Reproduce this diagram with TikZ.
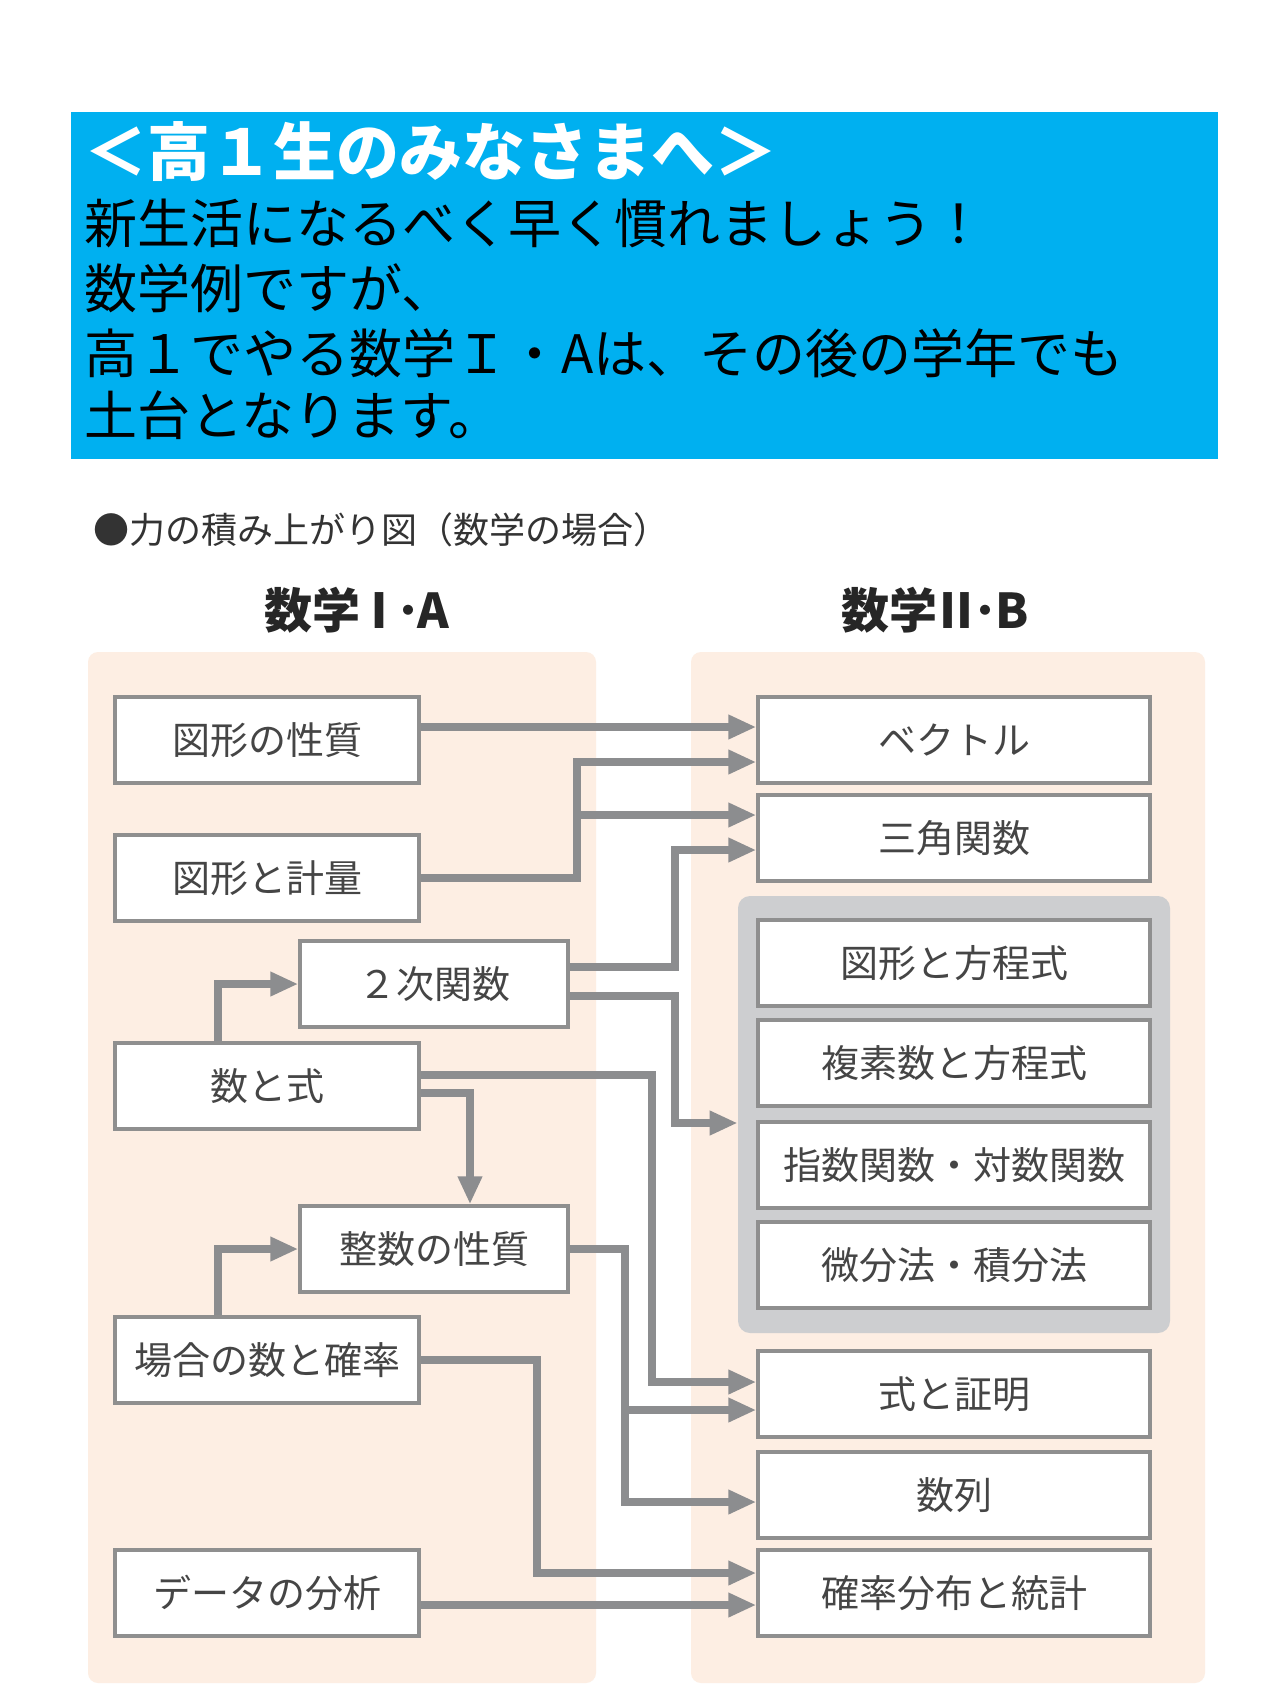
\documentclass[tikz,border=0pt]{standalone}
\usepackage{fontspec}
\setmainfont{Noto Sans CJK JP}
\usetikzlibrary{arrows.meta}
\definecolor{skyblue}{HTML}{00B0F0}
\definecolor{peach}{HTML}{FDEEE3}
\definecolor{groupgray}{HTML}{CDCED0}
\definecolor{boxgray}{HTML}{8F8F8F}
\definecolor{arrowgray}{HTML}{8C8D8F}
\definecolor{textgray}{HTML}{454545}
\begin{document}
\begin{tikzpicture}[x=0.5pt,y=-0.5pt,
  box/.style={draw=boxgray,line width=1.75pt,fill=white,minimum height=43pt,inner sep=0pt,
    text=textgray,font=\fontsize{19}{22}\selectfont},
  arr/.style={draw=arrowgray,line width=3.6pt,-{Triangle[length=14pt,width=11.5pt]}},
  head/.style={font=\fontsize{24}{26}\bfseries,text=black!85},
  line/.style={anchor=west,inner sep=0pt,font=\fontsize{26.5}{30}\selectfont}]
\useasboundingbox (0,0) rectangle (1280,1707);
\fill[white] (0,0) rectangle (1280,1707);
\fill[skyblue] (71,112) rectangle (1218,459);
\node[line,text=white,font=\fontsize{31.5}{34}\bfseries] (title) at (84,152) {＜高１生のみなさまへ＞};
\foreach \i/\y/\t in {1/223/新生活になるべく早く慣れましょう！, 2/288/数学例ですが、,
    3/353/高１でやる数学Ｉ・Aは、その後の学年でも, 4/415/土台となります。}
  \node[line] (msg\i) at (84,\y) {\t};
\node[anchor=west,inner sep=0pt,text=black!80,font=\fontsize{18}{20}\selectfont] (sub) at (93,530) {●力の積み上がり図（数学の場合）};
\node[head] (hA) at (357,610) {数学\kern-0.1emⅠ\kern-0.15em･\kern-0.05emA};
\node[head] (hB) at (935,610) {数学\kern-0.1emⅡ\kern-0.15em･\kern-0.05emB};
\fill[peach,rounded corners=5pt] (88,652) rectangle (596,1683);
\fill[peach,rounded corners=5pt] (691,652) rectangle (1205,1683);
\node[fill=groupgray,rounded corners=6pt,minimum width=216pt,minimum height=218.5pt] (grp) at (954,1114.5) {};
\foreach \n/\y/\t in {zusei/740/図形の性質, keiryo/878/図形と計量, suto/1086/数と式,
    baai/1360/場合の数と確率, data/1593/データの分析}
  \node[box,minimum width=152pt] (\n) at (267,\y) {\t};
\foreach \n/\y/\t in {niji/984/２次関数, seisu/1249/整数の性質}
  \node[box,minimum width=134pt] (\n) at (434,\y) {\t};
\foreach \n/\y/\t in {vec/740/ベクトル, tri/838/三角関数, zuho/963/図形と方程式,
    fuku/1063/複素数と方程式, shisu/1165/指数関数・対数関数, bibun/1265/微分法・積分法,
    shiki/1394/式と証明, sure/1495/数列, kaku/1593/確率分布と統計}
  \node[box,minimum width=196pt] (\n) at (954,\y) {\t};
\coordinate (j1) at (577,815);
\coordinate (j2) at (625,1410);
\draw[arr] ([yshift=6.5pt]zusei.east) -- ([yshift=6.5pt]vec.west);
\draw[arr] (keiryo.east) -| (577,762) -- ([yshift=-11pt]vec.west);
\draw[arr] (j1) -- ([yshift=11.5pt]tri.west);
\draw[arr] ([yshift=8.5pt]niji.east) -| (675,850) -- ([yshift=-6pt]tri.west);
\draw[arr] ([yshift=-6pt]niji.east) -| (675,1123) -- ([yshift=-4.25pt]grp.west);
\draw[arr] ([xshift=-24.5pt]suto.north) |- (niji.west);
\draw[arr] ([yshift=5.5pt]suto.east) -| (652,1382) -- ([yshift=6pt]shiki.west);
\draw[arr] ([yshift=-3.5pt]suto.east) -| ([xshift=18pt]seisu.north);
\draw[arr] ([xshift=-24.5pt]baai.north) |- (seisu.west);
\draw[arr] (seisu.east) -| (625,1502) -- ([yshift=-3.5pt]sure.west);
\draw[arr] (j2) -- ([yshift=-8pt]shiki.west);
\draw[arr] (baai.east) -| (537,1573) -- ([yshift=10pt]kaku.west);
\draw[arr] ([yshift=-6pt]data.east) -- ([yshift=-6pt]kaku.west);
\end{tikzpicture}
\end{document}
